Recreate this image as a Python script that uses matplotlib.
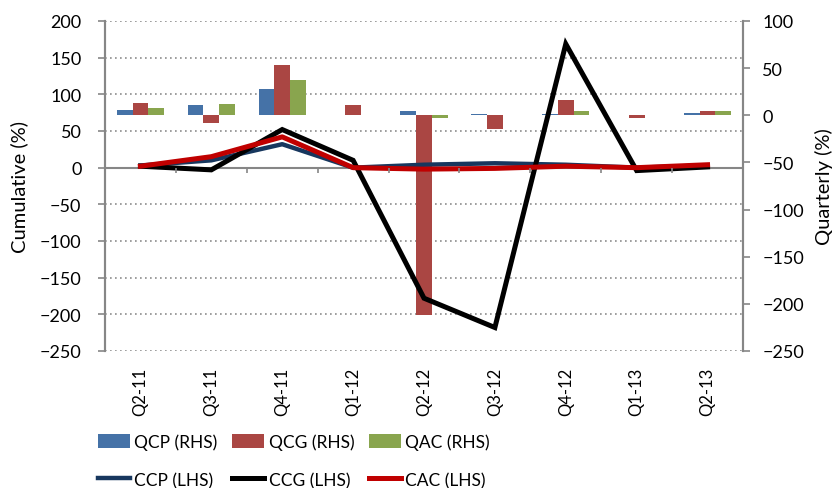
import numpy as np
import matplotlib.pyplot as plt
import matplotlib

matplotlib.rcParams['font.family'] = ['Lato', 'DejaVu Sans']

# 数据
quarters = ['Q2-11', 'Q3-11', 'Q4-11', 'Q1-12', 'Q2-12', 'Q3-12', 'Q4-12', 'Q1-13', 'Q2-13']
qcp = [5.6, 11.2, 27.9, 0.4, 4.2, 1.0, 1.7, 0.5, 2.4]
qcg = [13.4, -7.8, 53.3, 10.9, -212.0, -14.5, 16.2, -2.9, 4.6]
qac = [8.1, 12.0, 37.0, 0.3, -2.9, 0.3, 4.6, 0.3, 4.2]
ccp = [3, 10, 32, 0, 4, 6, 4, 0, 3]
ccg = [2, -3, 52, 10, -178, -218, 168.7, -4, 1]
cac = [2, 15, 42, 0, -2, -1, 2, 0, 4]

left_lim = (-250, 200)
right_lim = (-250, 100)

fig = plt.figure(figsize=(8.38, 4.89), dpi=100)
ax_l = fig.add_axes([105 / 838, 1 - 352 / 489, (743 - 105) / 838, (352 - 22) / 489])
ax_r = ax_l.twinx()
ax_l.set_zorder(ax_r.get_zorder() + 1)
ax_l.patch.set_visible(False)

x = np.arange(len(quarters))
w = 0.222

# 网格线（按左轴刻度换算到右轴）
left_ticks = np.arange(-250, 201, 50)
for t in left_ticks:
    frac = (t - left_lim[0]) / (left_lim[1] - left_lim[0])
    yr = right_lim[0] + frac * (right_lim[1] - right_lim[0])
    if t == 0:
        ax_r.axhline(yr, color='#868686', lw=1.5, zorder=0)
    else:
        ax_r.axhline(yr, color='#8c8c8c', lw=1.2, ls=(0, (1, 2)), zorder=0)

ax_r.bar(x - w, qcp, w, color='#4572A7', label='QCP (RHS)', zorder=2)
ax_r.bar(x, qcg, w, color='#AA4643', label='QCG (RHS)', zorder=2)
ax_r.bar(x + w, qac, w, color='#89A54E', label='QAC (RHS)', zorder=2)

ax_l.plot(x, ccp, color='#17375E', lw=3.2, label='CCP (LHS)', solid_joinstyle='round')
ax_l.plot(x, ccg, color='#000000', lw=3.6, label='CCG (LHS)', solid_joinstyle='miter')
ax_l.plot(x, cac, color='#C00000', lw=3.6, label='CAC (LHS)', solid_joinstyle='round')

# 零线上的分类刻度
ax_l.vlines(np.arange(len(quarters) + 1) - 0.5, -7, 0, color='#868686', lw=1.2)

ax_l.set_xlim(-0.5, len(quarters) - 0.5)
ax_l.set_ylim(*left_lim)
ax_r.set_ylim(*right_lim)
ax_l.set_yticks(left_ticks)
ax_r.set_yticks(np.arange(-250, 101, 50))

ax_l.set_xticks(x)
ax_l.set_xticklabels(quarters, rotation=90, fontsize=12)
ax_l.tick_params(axis='x', length=0, pad=11)
ax_l.tick_params(axis='y', labelsize=13, length=5, width=1.2, color='#868686', pad=12)
ax_r.tick_params(axis='y', labelsize=13, length=5, width=1.2, color='#868686', pad=9)

for a in (ax_l, ax_r):
    a.spines['top'].set_visible(False)
    a.spines['bottom'].set_visible(False)
    a.spines['left'].set_color('#868686')
    a.spines['right'].set_color('#868686')
    a.spines['left'].set_linewidth(1.5)
    a.spines['right'].set_linewidth(1.5)

ax_l.set_ylabel('Cumulative (%)', fontsize=14.5, labelpad=8)
ax_r.set_ylabel('Quarterly (%)', fontsize=14.5, labelpad=8)

# 图例
h_r, l_r = ax_r.get_legend_handles_labels()
h_l, l_l = ax_l.get_legend_handles_labels()
handles, labels = [], []
for i in range(3):
    handles += [h_r[i], h_l[i]]
    labels += [l_r[i], l_l[i]]
fig.legend(handles, labels, ncol=3, loc='upper left', bbox_to_anchor=(82 / 838, 1 - 419 / 489),
           frameon=False, fontsize=12.5, handlelength=1.85, handleheight=0.9,
           handletextpad=0.25, columnspacing=0.85, labelspacing=1.25)

plt.savefig('out.png', dpi=100)
